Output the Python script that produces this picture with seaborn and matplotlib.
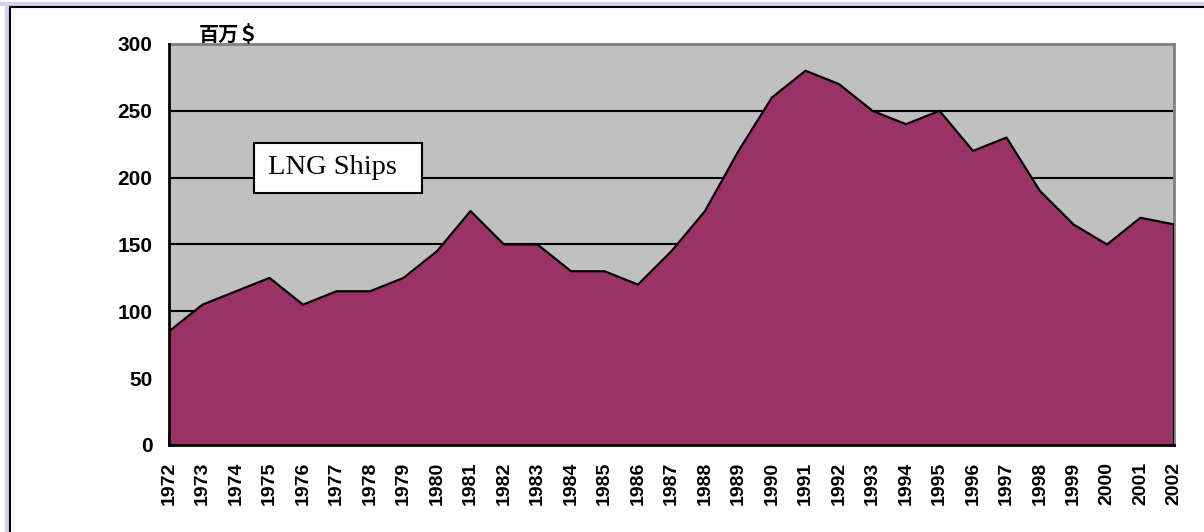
import matplotlib
matplotlib.use("Agg")
import matplotlib.pyplot as plt
import seaborn as sns
import pandas as pd
from matplotlib.patches import Rectangle
from matplotlib.lines import Line2D

# --- data ---
years = list(range(1972, 2003))
values = [85, 105, 115, 125, 105, 115, 115, 125, 145, 175,
          150, 150, 130, 130, 120, 145, 175, 220, 260, 280,
          270, 250, 240, 250, 220, 230, 190, 165, 150, 170, 165]
y_ticks = [0, 50, 100, 150, 200, 250, 300]
unit_label = "百万＄"
series_label = "LNG Ships"

df = pd.DataFrame({"year": years, "value": values})

sns.set_theme(style="white")
plt.rcParams['font.family'] = ['Liberation Sans', 'Noto Sans CJK JP', 'DejaVu Sans']
plt.rcParams['text.color'] = 'black'
plt.rcParams['xtick.color'] = 'black'
plt.rcParams['ytick.color'] = 'black'

fig = plt.figure(figsize=(12.04, 5.32), dpi=100)
ax = fig.add_axes([169 / 1204, 1 - 445 / 532, (1174 - 169) / 1204, (445 - 44) / 532])
ax.set_facecolor("#c0c0c0")

# grid lines under the area
for yv in y_ticks[1:-1]:
    ax.axhline(yv, color="black", lw=1.5, zorder=1)

ax.fill_between(df["year"], 0, df["value"], color="#993366", zorder=2, lw=0)
sns.lineplot(data=df, x="year", y="value", color="black", lw=1.6, ax=ax, zorder=3)
ax.plot([years[-1], years[-1]], [0, values[-1]], color="black", lw=1.6, zorder=3)

ax.set_xlim(years[0], years[-1])
ax.set_ylim(0, 300)
ax.set_xticks(years)
ax.set_xticklabels([str(y) for y in years], rotation=90, fontsize=14, fontweight="bold")
ax.set_yticks(y_ticks)
ax.set_yticklabels([str(v) for v in y_ticks], fontsize=15, fontweight="bold")
ax.tick_params(axis="x", direction="in", length=7, width=1.2, color="black",
               labelcolor="black", pad=12, bottom=True)
ax.tick_params(axis="y", length=0, pad=12, labelcolor="black")
ax.set_xlabel("")
ax.set_ylabel("")

for side in ["left", "bottom"]:
    ax.spines[side].set_color("black")
    ax.spines[side].set_linewidth(2)
    ax.spines[side].set_zorder(4)
for side in ["top", "right"]:
    ax.spines[side].set_color("#808080")
    ax.spines[side].set_linewidth(2)

# unit label above the axis
fig.text(199 / 1204, 1 - 35 / 532, unit_label, fontsize=14.5, fontweight="bold", color="black",
         ha="left", va="center", family=['Noto Sans CJK JP', 'DejaVu Sans'])

# label box
fig.patches.append(Rectangle((254 / 1204, 1 - 193 / 532), (422 - 254) / 1204, (193 - 143) / 532,
                             transform=fig.transFigure, facecolor="white", edgecolor="black",
                             lw=1.5, zorder=5))
fig.text(268 / 1204, 1 - 168 / 532, series_label, fontsize=20.5, family="Liberation Serif",
         color="black", ha="left", va="center", zorder=6)

# outer frame (left and top edges)
fig.lines.append(Line2D([7 / 1204, 7 / 1204], [0, 1 - 4 / 532], transform=fig.transFigure,
                        color="#d0d0f0", lw=3))
fig.lines.append(Line2D([0, 1], [1 - 4 / 532, 1 - 4 / 532], transform=fig.transFigure,
                        color="#d0d0f0", lw=3))
fig.lines.append(Line2D([9.5 / 1204, 9.5 / 1204], [0, 1 - 6.5 / 532], transform=fig.transFigure,
                        color="black", lw=1.5))
fig.lines.append(Line2D([9.5 / 1204, 1], [1 - 6.5 / 532, 1 - 6.5 / 532], transform=fig.transFigure,
                        color="black", lw=1.5))

fig.savefig("out.png", dpi=100)
plt.close(fig)
